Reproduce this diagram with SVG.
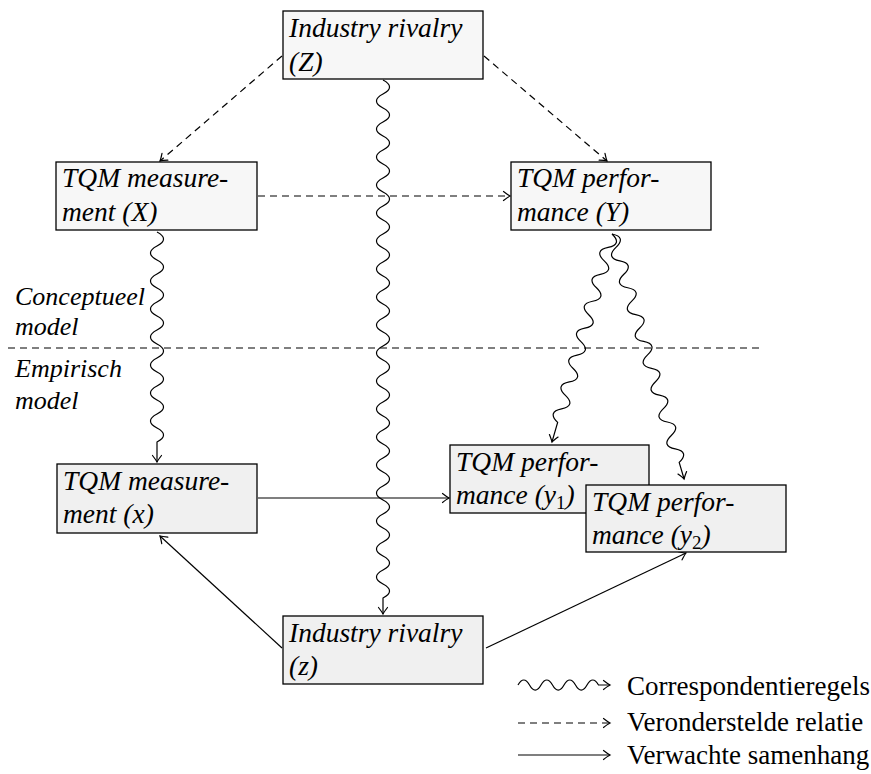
<svg xmlns="http://www.w3.org/2000/svg" width="871" height="774" viewBox="0 0 871 774">
  <style>
    .box { stroke: #000; stroke-width: 1.3; }
    .concept { fill: #f7f7f7; }
    .empiric { fill: #f0f0f0; }
    .lbl { font-family: "Liberation Serif", "Times New Roman", serif; font-style: italic; font-size: 27.5px; fill: #000; }
    .side { font-size: 26px; }
    .leg { font-family: "Liberation Serif", "Times New Roman", serif; font-size: 27px; fill: #000; }
    .edge { fill: none; stroke: #000; stroke-width: 1.2; }
    .dash { stroke-dasharray: 7 5; }
    .arr { marker-end: url(#to); }
  </style>
  <defs>
    <marker id="to" markerUnits="userSpaceOnUse" markerWidth="14" markerHeight="14" viewBox="-10 -7 12 14" refX="0" refY="0" orient="auto">
      <path d="M-6.5 -4.5 Q-2 -1 0 0 Q-2 1 -6.5 4.5" fill="none" stroke="#000" stroke-width="1.2" stroke-dasharray="none" stroke-linecap="round"/>
    </marker>
  </defs>

  <!-- boundary between the conceptual and empirical level -->
  <line class="edge dash" x1="8" y1="348" x2="762" y2="348"/>
  <text class="lbl side" x="15" y="305">Conceptueel</text>
  <text class="lbl side" x="15" y="335">model</text>
  <text class="lbl side" x="15" y="377">Empirisch</text>
  <text class="lbl side" x="15" y="409">model</text>

  <g id="connectors">
    <!-- assumed relations -->
    <line class="edge dash arr" x1="282" y1="56" x2="160" y2="161"/>
    <line class="edge dash arr" x1="484" y1="56" x2="607" y2="161"/>
    <line class="edge dash arr" x1="258" y1="196" x2="510" y2="196"/>
    <!-- correspondence rules: sine-like snakes drawn along +x, then rotated into place -->
    <path class="edge arr" transform="translate(383,80) rotate(90)" d="M0 0 c4.5 -8.7 9.5 -8.7 14 0 s9.5 8.7 14 0 s9.5 -8.7 14 0 s9.5 8.7 14 0 s9.5 -8.7 14 0 s9.5 8.7 14 0 s9.5 -8.7 14 0 s9.5 8.7 14 0 s9.5 -8.7 14 0 s9.5 8.7 14 0 s9.5 -8.7 14 0 s9.5 8.7 14 0 s9.5 -8.7 14 0 s9.5 8.7 14 0 s9.5 -8.7 14 0 s9.5 8.7 14 0 s9.5 -8.7 14 0 s9.5 8.7 14 0 s9.5 -8.7 14 0 s9.5 8.7 14 0 s9.5 -8.7 14 0 s9.5 8.7 14 0 s9.5 -8.7 14 0 s9.5 8.7 14 0 s9.5 -8.7 14 0 s9.5 8.7 14 0 s9.5 -8.7 14 0 s9.5 8.7 14 0 s9.5 -8.7 14 0 s9.5 8.7 14 0 s9.5 -8.7 14 0 s9.5 8.7 14 0 s9.5 -8.7 14 0 s9.5 8.7 14 0 s9.5 -8.7 14 0 s9.5 8.7 14 0 s9.5 -8.7 14 0 h16"/>
    <path class="edge arr" transform="translate(157,232) rotate(90)" d="M0 0 c4.5 -8.7 9.5 -8.7 14 0 s9.5 8.7 14 0 s9.5 -8.7 14 0 s9.5 8.7 14 0 s9.5 -8.7 14 0 s9.5 8.7 14 0 s9.5 -8.7 14 0 s9.5 8.7 14 0 s9.5 -8.7 14 0 s9.5 8.7 14 0 s9.5 -8.7 14 0 s9.5 8.7 14 0 s9.5 -8.7 14 0 s9.5 8.7 14 0 s9.5 -8.7 14 0 h20"/>
    <path class="edge arr" transform="translate(612,234) rotate(106.1)" d="M0 0 c4.5 -8.7 9.5 -8.7 14 0 s9.5 8.7 14 0 s9.5 -8.7 14 0 s9.5 8.7 14 0 s9.5 -8.7 14 0 s9.5 8.7 14 0 s9.5 -8.7 14 0 s9.5 8.7 14 0 s9.5 -8.7 14 0 s9.5 8.7 14 0 s9.5 -8.7 14 0 s9.5 8.7 14 0 s9.5 -8.7 14 0 s9.5 8.7 14 0 h20.5"/>
    <path class="edge arr" transform="translate(612,234) rotate(73.6)" d="M0 0 c4.5 -8.7 9.5 -8.7 14 0 s9.5 8.7 14 0 s9.5 -8.7 14 0 s9.5 8.7 14 0 s9.5 -8.7 14 0 s9.5 8.7 14 0 s9.5 -8.7 14 0 s9.5 8.7 14 0 s9.5 -8.7 14 0 s9.5 8.7 14 0 s9.5 -8.7 14 0 s9.5 8.7 14 0 s9.5 -8.7 14 0 s9.5 8.7 14 0 s9.5 -8.7 14 0 s9.5 8.7 14 0 s9.5 -8.7 14 0 h17.4"/>
    <!-- expected associations -->
    <line class="edge arr" x1="258" y1="498" x2="449" y2="498"/>
    <line class="edge arr" x1="282" y1="648" x2="160" y2="536"/>
    <line class="edge arr" x1="486" y1="648" x2="686" y2="553"/>
  </g>

  <g id="Z">
    <rect class="box concept" x="283" y="11" width="200" height="68"/>
    <text class="lbl" x="289" y="37">Industry rivalry</text>
    <text class="lbl" x="289" y="71">(Z)</text>
  </g>
  <g id="X">
    <rect class="box concept" x="56" y="162" width="201" height="68"/>
    <text class="lbl" x="62" y="187">TQM measure-</text>
    <text class="lbl" x="62" y="221">ment (X)</text>
  </g>
  <g id="Y">
    <rect class="box concept" x="511" y="162" width="200" height="68"/>
    <text class="lbl" x="517" y="187">TQM perfor-</text>
    <text class="lbl" x="517" y="221">mance (Y)</text>
  </g>
  <g id="x">
    <rect class="box empiric" x="57" y="464" width="200" height="69"/>
    <text class="lbl" x="63" y="490">TQM measure-</text>
    <text class="lbl" x="63" y="523">ment (x)</text>
  </g>
  <g id="y1">
    <rect class="box empiric" x="450" y="445" width="199" height="68"/>
    <text class="lbl" x="456" y="471">TQM perfor-</text>
    <text class="lbl" x="456" y="504">mance (y<tspan font-style="normal" font-size="19" dy="5">1</tspan><tspan dy="-5">)</tspan></text>
  </g>
  <g id="y2">
    <rect class="box empiric" x="586" y="485" width="200" height="67"/>
    <text class="lbl" x="592" y="511">TQM perfor-</text>
    <text class="lbl" x="592" y="544">mance (y<tspan font-style="normal" font-size="19" dy="5">2</tspan><tspan dy="-5">)</tspan></text>
  </g>
  <g id="z">
    <rect class="box empiric" x="283" y="616" width="200" height="68"/>
    <text class="lbl" x="289" y="642">Industry rivalry</text>
    <text class="lbl" x="289" y="675">(z)</text>
  </g>

  <g id="legend">
    <path class="edge arr" d="M518 685 c3.7 -6.7 7.8 -6.7 11.5 0 s7.8 6.7 11.5 0 s7.8 -6.7 11.5 0 s7.8 6.7 11.5 0 s7.8 -6.7 11.5 0 s7.8 6.7 11.5 0 s7.8 -6.7 11.5 0 h11.5"/>
    <line class="edge dash arr" x1="518" y1="723" x2="610" y2="723"/>
    <line class="edge arr" x1="518" y1="755" x2="610" y2="755"/>
    <text class="leg" x="627" y="695">Correspondentieregels</text>
    <text class="leg" x="627" y="731">Veronderstelde relatie</text>
    <text class="leg" x="627" y="764">Verwachte samenhang</text>
  </g>
</svg>
